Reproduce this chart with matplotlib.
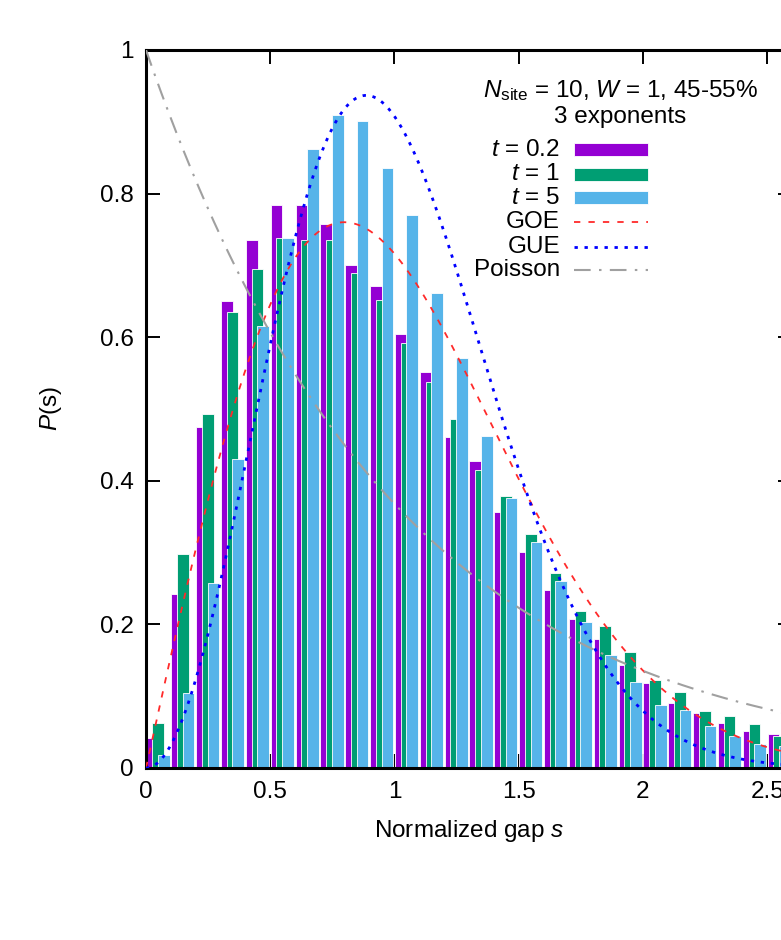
import numpy as np
import matplotlib
matplotlib.use("Agg")

import matplotlib.pyplot as plt
from matplotlib.patches import Rectangle
from matplotlib.lines import Line2D


plt.rcParams["font.family"] = ["Liberation Sans", "DejaVu Sans"]
plt.rcParams["mathtext.fontset"] = "custom"
plt.rcParams["mathtext.rm"] = "Liberation Sans"
plt.rcParams["mathtext.it"] = "Liberation Sans:italic"
plt.rcParams["font.size"] = 17.5

# histogram of normalized level spacings, bin width 0.1
bin_width = 0.1
p_t02 = [0.042, 0.242, 0.475, 0.651, 0.736, 0.784, 0.784, 0.757, 0.700, 0.672,
         0.605, 0.551, 0.461, 0.427, 0.356, 0.301, 0.248, 0.207, 0.180, 0.143,
         0.118, 0.091, 0.077, 0.063, 0.051, 0.047]
p_t1 = [0.063, 0.298, 0.493, 0.635, 0.695, 0.738, 0.735, 0.735, 0.690, 0.652,
        0.592, 0.537, 0.486, 0.415, 0.379, 0.326, 0.272, 0.219, 0.198, 0.162,
        0.123, 0.106, 0.079, 0.072, 0.061, 0.045]
p_t5 = [0.018, 0.104, 0.258, 0.431, 0.615, 0.738, 0.862, 0.910, 0.901, 0.835,
        0.770, 0.661, 0.571, 0.463, 0.376, 0.315, 0.260, 0.203, 0.157, 0.120,
        0.088, 0.081, 0.059, 0.045, 0.033, 0.030]
series_labels = ["$t$ = 0.2", "$t$ = 1", "$t$ = 5"]
series_colors = ["#9400d3", "#009e73", "#56b4e9"]


def goe(s):
    return np.pi / 2 * s * np.exp(-np.pi * s ** 2 / 4)


def gue(s):
    return 32 / np.pi ** 2 * s ** 2 * np.exp(-4 * s ** 2 / np.pi)


def poisson(s):
    return np.exp(-s)


fig = plt.figure(figsize=(7.81, 9.40), dpi=100)
# the frame runs past the right edge of the page
ax = fig.add_axes([146 / 781, 172 / 940, 646 / 781, 718 / 940])

s_left = np.arange(len(p_t02)) * bin_width
bar_w = 0.047
offsets = [0.002, 0.025, 0.048]
for vals, off, col in zip([p_t02, p_t1, p_t5], offsets, series_colors):
    ax.bar(s_left + off, vals, width=bar_w, align="edge", color=col,
           edgecolor="white", linewidth=0.6, zorder=2)

goe_style = dict(color="#ff2a2a", lw=1.3, dashes=(3.5, 4.5))
gue_style = dict(color="#0000ff", lw=2.0, dashes=(1.2, 2.4))
poi_style = dict(color="#a0a0a0", lw=1.5, dashes=(8, 4, 1.2, 4))

s = np.linspace(0, 2.6, 600)
ax.plot(s, goe(s), zorder=3, **goe_style)
ax.plot(s, gue(s), zorder=3, **gue_style)
ax.plot(s, poisson(s), zorder=3, **poi_style)

ax.set_xlim(0, 2.6)
ax.set_ylim(0, 1)
ax.set_xticks([0, 0.5, 1, 1.5, 2, 2.5])
ax.set_xticklabels(["0", "0.5", "1", "1.5", "2", "2.5"])
ax.set_yticks([0, 0.2, 0.4, 0.6, 0.8, 1])
ax.set_yticklabels(["0", "0.2", "0.4", "0.6", "0.8", "1"])
ax.tick_params(direction="in", length=10, width=1.4, top=True, right=True,
               labelsize=17.5)
ax.tick_params(axis="x", pad=9)
ax.tick_params(axis="y", pad=9)
for sp in ax.spines.values():
    sp.set_linewidth(2.2)

ax.set_xlabel("Normalized gap $s$", fontsize=17.5)
ax.set_ylabel("$P$(s)", fontsize=17.5)
ax.xaxis.set_label_coords(0.5, -0.07)
ax.yaxis.set_label_coords(-0.127, 0.5)

ax.text(0.734, 0.944, r"$N_{\rm site}$ = 10, $W$ = 1, 45-55%", transform=ax.transAxes,
        ha="center", va="center", fontsize=17.5)
ax.text(0.734, 0.907, "3 exponents", transform=ax.transAxes,
        ha="center", va="center", fontsize=17.5)

# hand-built key: labels right-aligned, samples to their right
key_x_text = 0.641
key_x0, key_x1 = 0.6625, 0.777
key_rows = [0.861, 0.827, 0.794, 0.760, 0.726, 0.694]
for lab, col, y in zip(series_labels, series_colors, key_rows[:3]):
    ax.text(key_x_text, y, lab, transform=ax.transAxes, ha="right", va="center",
            fontsize=17.5)
    ax.add_patch(Rectangle((key_x0, y - 0.009), key_x1 - key_x0, 0.018,
                           transform=ax.transAxes, facecolor=col,
                           edgecolor="white", linewidth=0.6, zorder=4))
line_keys = [("GOE", goe_style), ("GUE", gue_style), ("Poisson", poi_style)]
for (lab, kw), y in zip(line_keys, key_rows[3:]):
    ax.text(key_x_text, y, lab, transform=ax.transAxes, ha="right", va="center",
            fontsize=17.5)
    ax.add_line(Line2D([key_x0, key_x1], [y, y], transform=ax.transAxes, **kw))

fig.savefig("out.png", dpi=100)
plt.close(fig)
